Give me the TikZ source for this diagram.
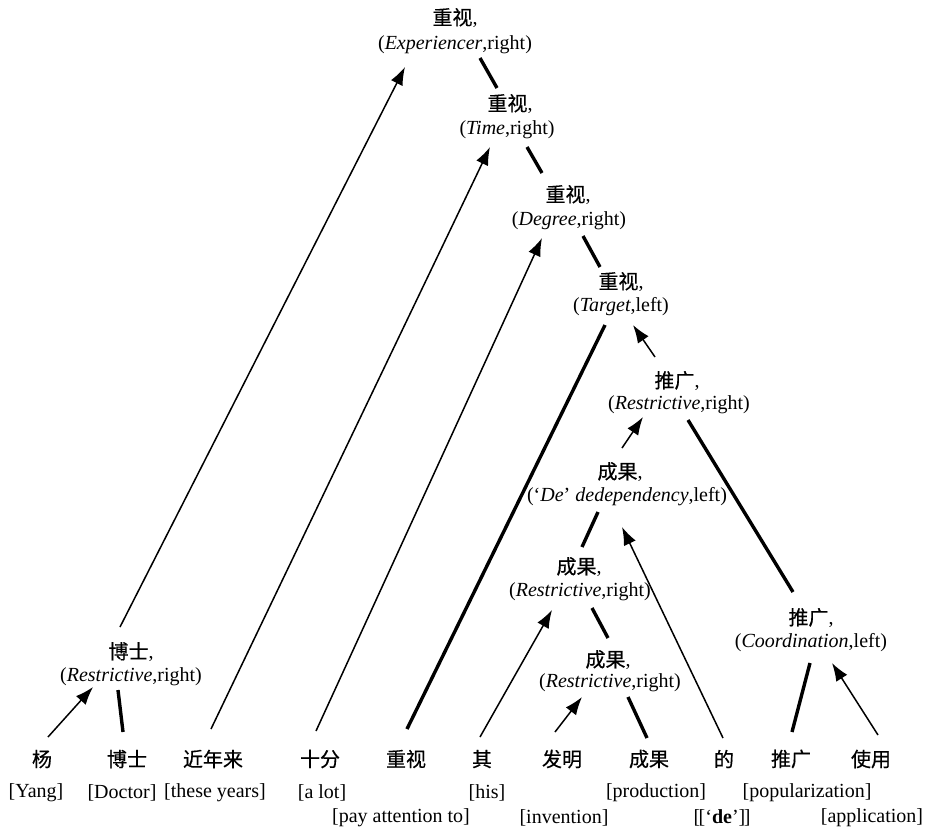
\documentclass[tikz,border=0pt]{standalone}
\usepackage{fontspec}
\setmainfont{Liberation Serif}
\newfontfamily\cjk[FakeBold=0.5]{Noto Sans CJK SC}
\usetikzlibrary{arrows.meta,calc}
\tikzset{
  lbl/.style={inner sep=0pt,font=\fontsize{20}{24}\selectfont},
  arr/.style={line width=1.5pt,-{Latex[length=18pt,width=13pt]}},
  hd/.style={line width=3.4pt}
}
\begin{document}
\begin{tikzpicture}[x=1pt,y=-1pt]
\useasboundingbox (0,0) rectangle (926,833);
% tree nodes: head word and relation
\node[lbl] (Ah) at (455,18) {{\cjk 重视},};
\node[lbl] (Ar) at (455,45) {(\textit{Experiencer},right)};
\node[lbl] (Bh) at (510,104) {{\cjk 重视},};
\node[lbl] (Br) at (507,130) {(\textit{Time},right)};
\node[lbl] (Ch) at (568,195) {{\cjk 重视},};
\node[lbl] (Cr) at (569,221) {(\textit{Degree},right)};
\node[lbl] (Dh) at (621,282) {{\cjk 重视},};
\node[lbl] (Dr) at (621,307) {(\textit{Target},left)};
\node[lbl] (Eh) at (677,381) {{\cjk 推广},};
\node[lbl] (Er) at (679,405) {(\textit{Restrictive},right)};
\node[lbl] (Fh) at (620,472) {{\cjk 成果},};
\node[lbl] (Fr) at (627,497) {(‘\textit{De}’ \textit{dedependency},left)};
\node[lbl] (Gh) at (579,567) {{\cjk 成果},};
\node[lbl] (Gr) at (580,592) {(\textit{Restrictive},right)};
\node[lbl] (Hh) at (608,660) {{\cjk 成果},};
\node[lbl] (Hr) at (610,683) {(\textit{Restrictive},right)};
\node[lbl] (Ih) at (811,618) {{\cjk 推广},};
\node[lbl] (Ir) at (811,643) {(\textit{Coordination},left)};
\node[lbl] (Jh) at (131,652) {{\cjk 博士},};
\node[lbl] (Jr) at (131,677) {(\textit{Restrictive},right)};
% words
\node[lbl] (w1) at (42,759) {\cjk 杨};
\node[lbl] (w2) at (127,759) {\cjk 博士};
\node[lbl] (w3) at (213,759) {\cjk 近年来};
\node[lbl] (w4) at (320,759) {\cjk 十分};
\node[lbl] (w5) at (406,759) {\cjk 重视};
\node[lbl] (w6) at (482,759) {\cjk 其};
\node[lbl] (w7) at (562,759) {\cjk 发明};
\node[lbl] (w8) at (649,759) {\cjk 成果};
\node[lbl] (w9) at (724,759) {\cjk 的};
\node[lbl] (w10) at (791,759) {\cjk 推广};
\node[lbl] (w11) at (871,759) {\cjk 使用};
% glosses
\node[lbl] (g1) at (36,793) {[Yang]};
\node[lbl] (g2) at (122,793) {[Doctor]};
\node[lbl] (g3) at (215,793) {[these years]};
\node[lbl] (g4) at (322,793) {[a lot]};
\node[lbl] (g5) at (401,818) {[pay attention to]};
\node[lbl] (g6) at (487,793) {[his]};
\node[lbl] (g7) at (564,818) {[invention]};
\node[lbl] (g8) at (656,793) {[production]};
\node[lbl] (g9) at (722,818) {[\kern-1.5pt[‘\textbf{de}’]\kern-1.5pt]};
\node[lbl] (g10) at (807,793) {[popularization]};
\node[lbl] (g11) at (872,818) {[application]};
% connectors
\draw[arr] ($(Jh)+(-11,-25)$) -- ($(Ar)+(-50,22)$);
\draw[arr] ($(w1)+(6,-22)$) -- ($(Jr)+(-38,10)$);
\draw[hd] ($(Jr)+(-13,13)$) -- ($(w2)+(-4,-27)$);
\draw[arr] ($(w3)+(-2,-30)$) -- ($(Br)+(-17,17)$);
\draw[arr] ($(w4)+(-4,-28)$) -- ($(Cr)+(-27,17)$);
\draw[hd] ($(Dr)+(-16,18)$) -- ($(w5)+(1,-30)$);
\draw[hd] ($(Ar)+(25,13)$) -- ($(Bh)+(-13,-16)$);
\draw[hd] ($(Br)+(20,17)$) -- ($(Ch)+(-26,-22)$);
\draw[hd] ($(Cr)+(14,15)$) -- ($(Dh)+(-21,-15)$);
\draw[arr] ($(Eh)+(-22,-24)$) -- ($(Dr)+(12,18)$);
\draw[arr] ($(Fh)+(2,-24)$) -- ($(Er)+(-36,12)$);
\draw[hd] ($(Er)+(9,15)$) -- ($(Ih)+(-18,-26)$);
\draw[hd] ($(Fr)+(-29,15)$) -- ($(Gh)+(3,-20)$);
\draw[arr] ($(w9)+(-1,-21)$) -- ($(Fr)+(-5,30)$);
\draw[arr] ($(w6)+(-2,-22)$) -- ($(Gr)+(-28,18)$);
\draw[hd] ($(Gr)+(12,16)$) -- ($(Hh)+(0,-22)$);
\draw[arr] ($(w7)+(-7,-27)$) -- ($(Hr)+(-28,14)$);
\draw[hd] ($(Hr)+(18,14)$) -- ($(w8)+(-2,-21)$);
\draw[hd] ($(Ir)+(-1,20)$) -- ($(w10)+(1,-27)$);
\draw[arr] ($(w11)+(7,-24)$) -- ($(Ir)+(21,20)$);
\end{tikzpicture}
\end{document}
